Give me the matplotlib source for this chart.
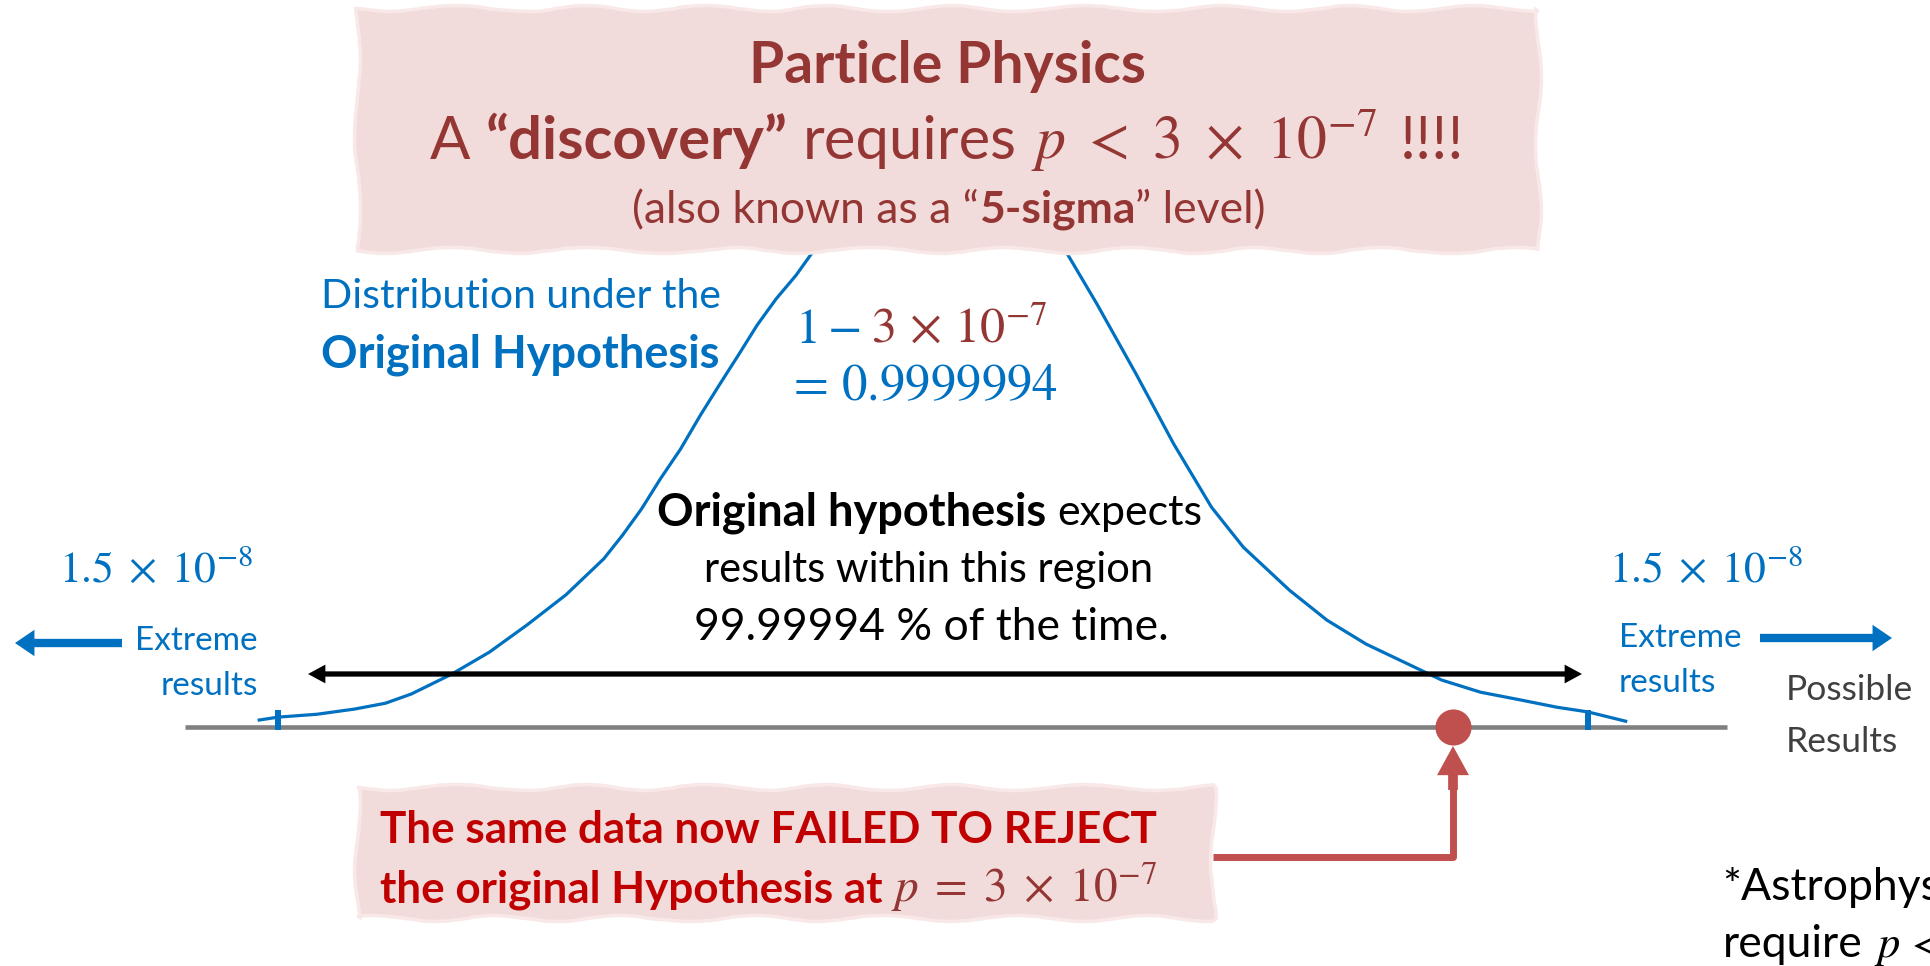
import matplotlib
matplotlib.use('Agg')
import matplotlib.pyplot as plt
from matplotlib.patches import Rectangle

plt.rcParams['font.family'] = ['Lato', 'DejaVu Sans']
plt.rcParams['mathtext.fontset'] = 'stix'

W, H, DPI = 1931, 966, 100

# ---------------- data ----------------
# schematic density of the "original hypothesis" (result in sd-like units, relative height)
curve_result = [-5.71, -5.55, -5.22, -4.90, -4.64, -4.42, -4.08, -3.76, -3.44, -3.11,
                -2.79, -2.63, -2.47, -2.31, -2.14, -1.97, -1.81, -1.65, -1.49, -1.33,
                -1.16, -1.03, -0.70, -0.36, 0.00, 0.36, 0.74, 1.12, 1.39, 1.72,
                2.04, 2.36, 2.63, 3.02, 3.34, 3.67, 3.99, 4.31, 4.64, 4.97,
                5.29, 5.55, 5.87]
curve_density = [0.012, 0.017, 0.022, 0.031, 0.041, 0.057, 0.091, 0.129, 0.176, 0.228,
                 0.290, 0.331, 0.376, 0.428, 0.479, 0.538, 0.590, 0.641, 0.693, 0.738,
                 0.779, 0.816, 0.900, 0.969, 1.000, 0.969, 0.900, 0.822, 0.729, 0.609,
                 0.488, 0.379, 0.310, 0.236, 0.184, 0.143, 0.112, 0.081, 0.060, 0.047,
                 0.034, 0.026, 0.010]
critical_values = [-5.55, 5.55]      # cut-offs of the extreme regions
observed_result = 4.41               # the observed data point
results_axis = [-6.34, 6.73]         # extent of the "possible results" line
tail_prob_label = r"$1.5\;\times\;10^{-8}$"
center_prob_lines = [r"$1-$", r"$3\,\times\,10^{-7}$", r"$=\,0.9999994$"]
threshold_label = r"$p\ <\ 3\ \times\ 10^{-7}$"
observed_label = r"$p\;=\;3\;\times\;10^{-7}$"

# ---------------- styles ----------------
BLUE = '#0070C0'
DARKRED = '#943634'
RED = '#C00000'
ROSE = '#C0504D'
PINK = '#F2DCDB'
GRAY = '#808080'
DGRAY = '#404040'

fig = plt.figure(figsize=(W / DPI, H / DPI), dpi=DPI)
fig.patch.set_facecolor('white')

# ---- curve axes: results (x) vs relative density (y) ----
CX, PXU, BASE, PXD = 933, 118.0, 727, 580.0
axc = fig.add_axes([0, 0, 1, 1])
axc.set_xlim(-CX / PXU, (W - CX) / PXU)
axc.set_ylim(-(H - BASE) / PXD, BASE / PXD)
axc.axis('off')
axc.plot(results_axis, [0, 0], color=GRAY, lw=3.3, solid_capstyle='butt', zorder=1)
axc.plot(curve_result, curve_density, color=BLUE, lw=2.3, zorder=3,
         solid_joinstyle='round')
axc.vlines(critical_values, -0.005, 0.029, color=BLUE, lw=4.3, zorder=2)
axc.plot([observed_result], [0], 'o', ms=26, color=ROSE, mec='none', zorder=4)

# ---- overlay axes in pixel units for annotations ----
ax = fig.add_axes([0, 0, 1, 1])
ax.set_xlim(0, W)
ax.set_ylim(H, 0)
ax.axis('off')


def box(x0, y0, x1, y1):
    r = Rectangle((x0, y0), x1 - x0, y1 - y0, facecolor=PINK, edgecolor='#F8E9E8',
                  lw=2.5, zorder=5)
    r.set_sketch_params(scale=3, length=160, randomness=3)
    ax.add_patch(r)


def rich(x, y, parts, size, color, ha='left'):
    arts = []
    prev = None
    for s, opt in parts:
        kw = dict(fontsize=opt.get('size', size), color=opt.get('color', color),
                  fontweight=opt.get('weight', 'normal'), va='baseline', zorder=6)
        if prev is None:
            t = ax.text(x, y, s, ha='left', **kw)
        else:
            gap = opt.get('gap', 0.25 * size)
            t = ax.annotate(s, xy=(1, y), xycoords=(prev, 'data'), xytext=(gap, 0),
                            textcoords='offset points', ha='left', **kw)
        arts.append(t)
        prev = t
    return (arts, x, ha)


box(357, 8, 1538, 250)
box(357, 787, 1213, 918)

lines = []
# top box
ax.text(948, 83, "Particle Physics", ha='center', va='baseline', fontsize=41,
        fontweight='bold', color=DARKRED, zorder=6)
lines.append(rich(947, 159, [("A", {}), ("“discovery”", {'weight': 'bold'}), ("requires", {}),
                              (threshold_label, {'size': 43}), ("!!!!", {'gap': 16})],
                  43, DARKRED, ha='center'))
lines.append(rich(949, 223, [("(also known as a “", {}), ("5-sigma", {'weight': 'bold', 'gap': 0}),
                              ("” level)", {'gap': 0})], 32, DARKRED, ha='center'))

# distribution label
ax.text(721, 308, "Distribution under the", ha='right', va='baseline', fontsize=29.5,
        color=BLUE, zorder=6)
ax.text(720, 367, "Original Hypothesis", ha='right', va='baseline', fontsize=32.5,
        fontweight='bold', color=BLUE, zorder=6)

# central probability
rich(795, 343, [(center_prob_lines[0], {'color': BLUE}),
                (center_prob_lines[1], {'color': DARKRED, 'gap': 8})], 36, BLUE)
ax.text(786, 400, center_prob_lines[2], ha='left', va='baseline', fontsize=36.5, color=BLUE, zorder=6)

# central black text
lines.append(rich(930, 525, [("Original hypothesis", {'weight': 'bold', 'size': 32.5}),
                             ("expects", {'size': 31})], 31, 'black', ha='center'))
ax.text(929, 582, "results within this region", ha='center', va='baseline', fontsize=30,
        color='black', zorder=6)
ax.text(931, 640, "99.99994 % of the time.", ha='center', va='baseline', fontsize=32,
        color='black', zorder=6)

# double-headed black arrow
for tip in (308, 1582):
    ax.annotate('', xy=(tip, 674), xytext=(945, 674),
                arrowprops=dict(arrowstyle='simple,head_length=1.25,head_width=1.35,tail_width=0.38',
                                mutation_scale=10, color='black', lw=0, shrinkA=0, shrinkB=0),
                zorder=2)

# tail probabilities
ax.text(59, 582, tail_prob_label, ha='left', va='baseline', fontsize=31.5, color=BLUE, zorder=6)
ax.text(1609, 582, tail_prob_label, ha='left', va='baseline', fontsize=31.5, color=BLUE, zorder=6)

# extreme results
ax.text(258, 650, "Extreme", ha='right', va='baseline', fontsize=24, color=BLUE, zorder=6)
ax.text(258, 695, "results", ha='right', va='baseline', fontsize=24, color=BLUE, zorder=6)
ax.text(1619, 647, "Extreme", ha='left', va='baseline', fontsize=24, color=BLUE, zorder=6)
ax.text(1619, 692, "results", ha='left', va='baseline', fontsize=24, color=BLUE, zorder=6)
blue_arrow = dict(arrowstyle='simple,head_length=1.4,head_width=1.9,tail_width=0.6',
                  mutation_scale=10, color=BLUE, lw=0, shrinkA=0, shrinkB=0)
ax.annotate('', xy=(15, 643), xytext=(122, 643), arrowprops=blue_arrow)
ax.annotate('', xy=(1892, 638), xytext=(1760, 638), arrowprops=blue_arrow)

# possible results
ax.text(1786, 700, "Possible", ha='left', va='baseline', fontsize=25.5, color=DGRAY, zorder=6)
ax.text(1786, 752, "Results", ha='left', va='baseline', fontsize=25.5, color=DGRAY, zorder=6)

# bottom box text
ax.text(380, 843, "The same data now FAILED TO REJECT", ha='left', va='baseline', fontsize=31.7,
        fontweight='bold', color=RED, zorder=6)
rich(380, 902, [("the original Hypothesis at", {'weight': 'bold'}),
                (observed_label, {'color': DARKRED, 'size': 34, 'gap': 6})], 31.7, RED)

# connector from box to the observed point
ax.plot([1213, 1453, 1453], [857, 857, 775], color=ROSE, lw=5, solid_joinstyle='round',
        solid_capstyle='butt', zorder=4)
ax.annotate('', xy=(1453, 746), xytext=(1453, 790),
            arrowprops=dict(arrowstyle='simple,head_length=2.1,head_width=2.3,tail_width=0.7',
                            mutation_scale=10, color=ROSE, lw=0, shrinkA=0, shrinkB=0))

# footnote (cut by the slide edge, as in the original)
ax.text(1722, 900, "*Astrophysics", ha='left', va='baseline', fontsize=32, color='black', zorder=6)
rich(1723, 957, [("require", {}), (r"$p\,<$", {})], 32, 'black')

# center the multi-part lines
fig.canvas.draw()
rend = fig.canvas.get_renderer()
for arts, cx, ha in lines:
    if ha != 'center':
        continue
    x0 = arts[0].get_window_extent(rend).x0
    x1 = arts[-1].get_window_extent(rend).x1
    arts[0].set_x(cx - (x1 - x0) / 2.0)

fig.savefig('out.png', dpi=DPI, facecolor='white')
